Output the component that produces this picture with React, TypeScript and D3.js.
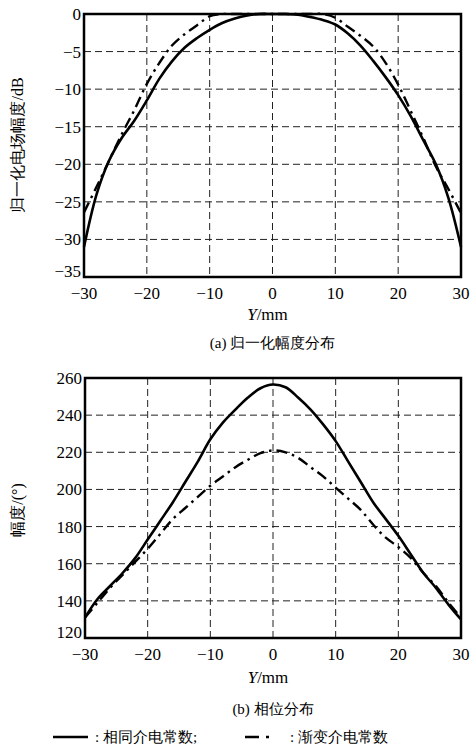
import React from 'react'
import * as d3 from 'd3'

// Y positions (mm)
const yPos = [-30, -28, -26, -24, -22, -20, -18, -16, -14, -12, -10, -8, -6, -4, -2, 0, 2, 4, 6, 8, 10, 12, 14, 16, 18, 20, 22, 24, 26, 28, 30]

// (a) normalized amplitude, dB
const ampSame = [-31, -24, -19.5, -16.5, -14.2, -11.5, -8.6, -6.3, -4.5, -3.2, -2.1, -1.2, -0.6, -0.2, 0, 0, 0, -0.1, -0.4, -0.8, -1.4, -2.6, -4.2, -6.2, -8.4, -10.8, -13.6, -16.8, -20, -24.5, -31]
const ampGraded = [-26.4, -23, -19.5, -16, -12.8, -9.3, -6.5, -4.2, -2.7, -1.5, -0.3, 0, 0, 0, 0, 0, 0, 0, 0, 0, -0.5, -1.7, -2.9, -4.3, -6.5, -9.4, -12.9, -16.5, -20.3, -23.3, -26.5]

// (b) phase, degrees
const phaseSame = [131, 141, 148, 155, 163, 173, 183, 193, 204, 215, 227, 236, 243, 249.5, 254.5, 256.5, 255, 249.5, 243, 235, 226, 215, 204, 193, 184, 175, 165, 155, 147, 138, 130]
const phaseGraded = [131, 139, 147, 154, 161, 168, 176, 184, 190, 196, 202, 207, 212, 216, 219.5, 221, 220, 217, 212, 207, 201, 195, 189, 181, 174, 169, 163, 155, 148, 139, 131]

const xTicks = [-30, -20, -10, 0, 10, 20, 30]
const ampTicks = [0, -5, -10, -15, -20, -25, -30, -35]
const phaseTicks = [260, 240, 220, 200, 180, 160, 140, 120]

const serif = 'Liberation Serif'

const fmt = (t: number) => (t < 0 ? '\u2212' + Math.abs(t) : String(t))

type PanelProps = {
  left: number; right: number; top: number; bottom: number
  yDomain: [number, number]; yTicks: number[]
  solid: number[]; dashed: number[]
  yLabel: string; yLabelY: number
  axisTitleY: number; captionY: number; caption: string
}

const Panel = ({ left, right, top, bottom, yDomain, yTicks, solid, dashed, yLabel, yLabelY, axisTitleY, captionY, caption }: PanelProps) => {
  const x = d3.scaleLinear().domain([-30, 30]).range([left, right])
  const y = d3.scaleLinear().domain(yDomain).range([bottom, top])
  const line = d3.line<number>()
    .x((_, i) => x(yPos[i]))
    .y(d => y(d))
    .curve(d3.curveCatmullRom.alpha(0.5))

  return (
    <g>
      {/* grid */}
      {yTicks.filter(t => t !== yDomain[0] && t !== yDomain[1]).map((t, i) => (
        <line key={'h' + i} x1={left} x2={right} y1={y(t)} y2={y(t)} stroke="#222" strokeWidth={1} strokeDasharray="7,4" />
      ))}
      {xTicks.filter(t => t !== -30 && t !== 30).map((t, i) => (
        <line key={'v' + i} x1={x(t)} x2={x(t)} y1={top} y2={bottom} stroke="#222" strokeWidth={1} strokeDasharray="7,4" />
      ))}
      {/* curves */}
      <path d={line(dashed) || ''} fill="none" stroke="#000" strokeWidth={2.4} strokeDasharray="11,5,2.5,5" />
      <path d={line(solid) || ''} fill="none" stroke="#000" strokeWidth={2.6} />
      {/* frame */}
      <rect x={left} y={top} width={right - left} height={bottom - top} fill="none" stroke="#000" strokeWidth={2.5} />
      {/* y tick labels; the lowest one sits a little higher, clear of the x labels */}
      {yTicks.map((t, i) => (
        <text key={'yt' + i} x={left - 3} y={y(t) - (t === yDomain[0] ? 6 : 0)} dy="0.35em" textAnchor="end" fontFamily={serif} fontSize={17}>
          {fmt(t)}
        </text>
      ))}
      {/* x tick labels */}
      {xTicks.map((t, i) => (
        <text key={'xt' + i} x={x(t)} y={bottom + 16} dy="0.35em" textAnchor="middle" fontFamily={serif} fontSize={17}>
          {fmt(t)}
        </text>
      ))}
      <text x={(left + right) / 2 - 5} y={axisTitleY} dy="0.35em" textAnchor="middle" fontFamily={serif} fontSize={17}>
        <tspan fontStyle="italic">Y</tspan>/mm
      </text>
      <text x={(left + right) / 2} y={captionY} dy="0.35em" textAnchor="middle" fontFamily={serif} fontSize={15}>
        {caption}
      </text>
      <text transform={`translate(17,${yLabelY}) rotate(-90)`} dy="0.35em" textAnchor="middle" fontFamily={serif} fontSize={16}>
        {yLabel}
      </text>
    </g>
  )
}

export default function App() {
  return (
    <svg width={476} height={747} style={{ position: 'absolute', left: 0, top: 0, background: '#fff' }}>
      <Panel left={84} right={461} top={14} bottom={277}
        yDomain={[-35, 0]} yTicks={ampTicks}
        solid={ampSame} dashed={ampGraded}
        yLabel="归一化电场幅度/dB" yLabelY={145}
        axisTitleY={314} captionY={343} caption="(a) 归一化幅度分布" />
      <Panel left={85} right={461} top={378} bottom={638}
        yDomain={[120, 260]} yTicks={phaseTicks}
        solid={phaseSame} dashed={phaseGraded}
        yLabel="幅度/(°)" yLabelY={510}
        axisTitleY={677} captionY={709} caption="(b) 相位分布" />
      {/* legend */}
      <line x1={53} x2={88} y1={737} y2={737} stroke="#000" strokeWidth={2.6} />
      <text x={95} y={737} dy="0.35em" fontFamily={serif} fontSize={15}>: 相同介电常数;</text>
      <line x1={245} x2={281} y1={737} y2={737} stroke="#000" strokeWidth={2.4} strokeDasharray="14,7,3,20" />
      <text x={290} y={737} dy="0.35em" fontFamily={serif} fontSize={15}>: 渐变介电常数</text>
    </svg>
  )
}
